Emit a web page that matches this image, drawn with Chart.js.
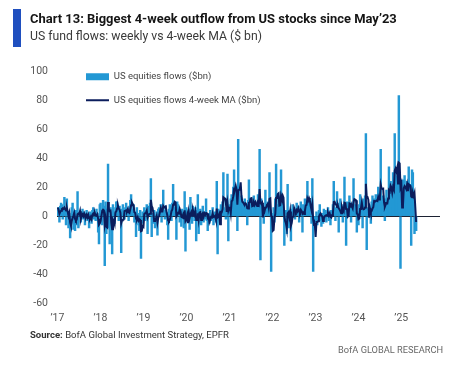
<!DOCTYPE html>
<html>
<head>
<meta charset="utf-8">
<script src="https://cdn.jsdelivr.net/npm/chart.js@4.4.1/dist/chart.umd.min.js"></script>
<style>
    html, body { margin: 0; padding: 0; background: #fff; }
    body {
        width: 467px; height: 368px; position: relative; overflow: hidden;
        font-family: Roboto, "Open Sans", sans-serif;
    }
    #chartBox { position: absolute; left: 0; top: 0; width: 467px; height: 368px; }
    .accent { position: absolute; left: 13px; top: 9px; width: 8px; height: 38px; background: #1f4fbf; }
    .txt { position: absolute; white-space: nowrap; }
    #title { left: 30px; top: 11px; font-size: 13px; line-height: 16px; font-weight: bold; color: #151515; }
    #subtitle { left: 30px; top: 28px; font-size: 13px; line-height: 16px; color: #3a3a3a; }
    #source { left: 30px; top: 328px; font-size: 11px; line-height: 14px; color: #333; }
    #brand { right: 24px; top: 343px; font-size: 11px; line-height: 14px; color: #666; }
</style>
</head>
<body>
<div id="chartBox"><canvas id="flowsChart" width="467" height="368"></canvas></div>
<div class="accent"></div>
<div class="txt" id="title">Chart 13: Biggest 4-week outflow from US stocks since May’23</div>
<div class="txt" id="subtitle">US fund flows: weekly vs 4-week MA ($ bn)</div>
<div class="txt" id="source"><b>Source:</b> BofA Global Investment Strategy, EPFR</div>
<div class="txt" id="brand">BofA GLOBAL RESEARCH</div>

<script>
// weekly US equity fund flows ($bn), one row per quarter
const flows2017 = [6, 3, -4, 7, 9, 8, -2, 5, 13, 4, -6, 12, 3,
    -8, 2, -15, -5, 6, 9, -9, 3, -10, 4, -6, 17, -8,
    2, 3, -4, 1, 5, -2, 3, -6, 2, 4, -3, 1, -8,
    3, 2, -5, 4, 6, -2, 1, -3, 5, 2, -11, -19, 8];
const flows2018 = [9, 4, -6, 11, 7, -34, 10, -12, 5, 36, -8, -19, 6,
    3, -26, 8, 2, -5, 6, 10, 10, 4, -3, 7, 2, -25,
    5, 8, 3, -2, 6, 9, 1, 4, -3, 7, 11, 15, 5,
    2, 8, -4, 3, -14, 6, 2, -6, -10, 4, -29, -5, 3];
const flows2019 = [2, 6, -3, 4, 8, -12, 3, 7, 9, 26, -14, 2, -5,
    4, -8, 1, 3, -13, 5, 6, 3, 8, -4, 6, 18, 4,
    -2, 7, 3, -6, -16, 5, 8, 4, -3, 9, 22, 6, 3,
    7, -16, 10, 8, 6, -4, 3, -7, 5, 2, -8, 17, -24];
const flows2020 = [6, 3, -4, 5, -9, 13, 2, -5, 7, 4, -3, 6, -17,
    4, 15, -12, 3, 5, -6, 2, 7, -4, 3, -2, 12, -3,
    -10, 2, -5, 4, -3, 1, 6, -6, -2, 3, -4, 24, -26,
    5, 2, -3, 8, 4, 10, 30, 6, 3, -2, 5, 29, -17];
const flows2021 = [6, 8, 12, 15, 8, 20, 32, 14, 18, 10, -10, 53, 20,
    12, 8, 14, 6, 10, 4, 12, 9, 7, -6, 11, 25, 8,
    5, 12, 3, 9, 14, 6, 10, 4, 8, 15, 6, 46, -30,
    12, 9, 6, -5, 4, 18, 7, 3, 10, 5, 30, 4, -38];
const flows2022 = [2, -8, 6, -4, 12, 36, 8, 5, 14, 2, 9, 32, 6,
    10, 3, -20, -6, 4, -12, 22, -3, -8, 2, -17, 5, 8,
    3, 6, -2, 4, 9, 2, 7, -4, 5, 10, 3, -11, 8,
    6, 12, 4, 9, 24, 6, 11, 3, 8, -5, 26, -38, -6];
const flows2023 = [-4, -9, 3, -6, -2, 4, 8, -3, -7, 2, -5, 5, -2,
    4, -4, 3, 6, -3, 2, -6, 4, 3, 8, 24, 5, -3,
    6, 17, 9, -11, 4, 12, 3, 6, -4, 8, 27, 5, -20,
    10, 4, 7, 14, 9, -4, 9, 8, 26, 4, 8, 6, -11];
const flows2024 = [3, -6, 8, 15, 5, 10, -8, 12, 6, 14, 57, -23, 5,
    6, 8, 2, -5, 10, 14, 6, 12, 9, 15, 7, 11, 20,
    8, 13, 46, 10, 6, 14, 9, -3, 12, 18, 8, 11, 34,
    15, 24, 6, 20, 30, 18, 57, 26, 22, 28, 14, 83, 20];
const flows2025 = [-36, 22, 18, 25, 12, 28, 15, 20, 24, 10, 34, 18, 22,
    -20, 32, 30, 14, -12, -8, -10];

// 4-week moving average ($bn)
const ma2017 = [6, 4.5, 1.7, 3, 3.8, 5, 5.5, 5, 6, 5, 4, 5.8, 3.3,
    0.3, 2.3, -4.5, -6.5, -3, -1.3, 0.3, 2.3, -1.8, -3, -2.3, 1.3, 1.8,
    1.3, 3.5, -1.8, 0.5, 1.3, 0, 1.8, 0, -0.8, 0.8, -0.8, 1, -1.5,
    -1.8, -0.5, -2, 1, 1.8, 0.8, 2.3, 0.5, 0.3, 1.3, -1.8, -5.8, -5];
const ma2018 = [-3.3, 0.5, 3.8, 4.5, 4, -5.5, -1.5, -7.3, -7.8, 9.8, 5.3, 3.5, 3.8,
    -4.5, -9, -2.3, -3.3, -5.3, 2.8, 3.3, 5.3, 7.5, 5.3, 4.5, 2.5, -4.8,
    -2.8, -2.5, -2.3, 3.5, 3.8, 4, 3.5, 5, 2.8, 2.3, 4.8, 7.5, 9.5,
    8.3, 7.5, 2.8, 2.3, -1.8, -2.3, -0.8, -3, -2, -2.5, -10.3, -10, -6.8];
const ma2019 = [-7.3, 1.5, 2, 2.3, 3.8, -0.8, 0.8, 1.5, 1.8, 11.3, 7, 5.8, 2.3,
    -3.3, -1.8, -2, 0, -4.3, -1, 0.3, 0.3, 5.5, 3.3, 3.3, 7, 6,
    6.5, 6.8, 3, 0.5, -3, -3.5, -2.3, 0.3, 3.5, 4.5, 8, 8.5, 10,
    9.5, 0, 1, 2.3, 2, 5, 3.3, -0.5, -0.8, 0.8, -2, 4, -3.3];
const ma2020 = [-2.3, 0.5, -4.8, 2.5, -1.3, 1.3, 2.8, 0.3, 4.3, 2, 0.8, 3.5, -2.5,
    -2.5, 2, -2.5, 2.5, 2.8, -2.5, 1, 2, -0.3, 2, 1, 2.3, 2.5,
    -0.8, 0.3, -4, -2.3, -0.5, -0.8, 2, -0.5, -0.3, 0.3, -2.3, 5.3, -0.8,
    -0.3, 1.3, -5.5, 3, 2.8, 4.8, 13, 12.5, 12.3, 9.3, 3, 8.8, 3.8];
const ma2021 = [5.8, 6.5, 2.3, 10.3, 10.8, 13.8, 18.8, 18.5, 21, 18.5, 8, 17.8, 18.3,
    18.8, 23.3, 13.5, 10, 9.5, 8.5, 8, 8.8, 8, 5.5, 5.3, 9.3, 9.5,
    12.3, 12.5, 7, 7.3, 9.5, 8, 9.8, 8.5, 7, 9.3, 8.3, 18.8, 9.3,
    8.5, 9.3, -0.8, 5.5, 3.5, 5.8, 6, 8, 9.5, 6.3, 12, 12.3, 0.3];
const ma2022 = [-0.5, -10, -9.5, -1, 1.5, 12.5, 13, 15.3, 15.8, 7.3, 7.5, 14.3, 12.3,
    14.3, 12.8, -0.3, -3.3, -4.8, -8.5, 2, 2.8, -0.3, 3.3, -6.5, -4.5, -0.5,
    -0.3, 5.5, 3.8, 2.8, 4.3, 3.3, 5.5, 3.5, 2.5, 4.5, 3.5, 1.8, 2.5,
    1.5, 3.8, 7.5, 7.8, 12.3, 10.8, 12.5, 11, 7, 4.3, 8, -2.3, -5.8];
const ma2023 = [-5.5, -14.3, -4, -4, -3.5, -0.3, 1, 1.8, 0.5, 0, -3.3, -1.3, 0,
    0.5, 0.8, 0.3, 2.3, 0.5, 2, -0.3, -0.8, 0.8, 2.3, 9.8, 10, 8.5,
    8, 6.3, 7.3, 5.3, 4.8, 3.5, 2, 6.3, 4.3, 3.3, 9.3, 9, 5,
    5.5, -0.3, 0.3, 8.8, 8.5, 6.5, 7, 5.5, 9.8, 11.8, 11.5, 11, 1.8];
const ma2024 = [1.5, -2, -1.5, 5, 5.5, 9.5, 5.5, 4.8, 5, 6, 22.3, 13.5, 13.3,
    11.3, -1, 5.3, 2.8, 3.8, 5.3, 6.3, 10.5, 10.3, 10.5, 10.8, 10.5, 13.3,
    11.5, 13, 21.8, 19.3, 18.8, 19, 9.8, 6.5, 8, 9, 8.8, 12.3, 17.8,
    17, 21, 19.8, 16.3, 20, 18.5, 31.3, 32.8, 30.8, 33.3, 22.5, 36.8, 36.3];
const ma2025 = [20.3, 22.3, 6, 7.3, 19.3, 20.8, 20, 18.8, 21.8, 17.3, 22, 21.5, 21,
    13.5, 13, 16, 14, 16, 6, -4];

const yearTicks = [2017, 2018, 2019, 2020, 2021, 2022, 2023, 2024, 2025];
const firstWeekDay = 3;   // days into Jan 2017 of the first weekly print

const weeklyFlows = [].concat(flows2017, flows2018, flows2019, flows2020, flows2021,
    flows2022, flows2023, flows2024, flows2025);
const weeklyMA = [].concat(ma2017, ma2018, ma2019, ma2020, ma2021,
    ma2022, ma2023, ma2024, ma2025);

// week i sits i*7 days after the first print
const weekPos = weeklyFlows.map((v, i) => 2017 + (firstWeekDay + i * 7) / 365.25);

const FONT = 'Roboto, "Open Sans", sans-serif';

// squeeze the html headings to the width they take in the original
function fitText(id, target) {
    const el = document.getElementById(id);
    const size = parseFloat(getComputedStyle(el).fontSize);
    const w = el.getBoundingClientRect().width;
    el.style.fontSize = (size * target / w).toFixed(2) + 'px';
}
fitText('title', 367);
fitText('subtitle', 232);
fitText('source', 199);
fitText('brand', 105);

// moves the in-plot legend up to the top-left corner like the original
const legendNudge = {
    id: 'legendNudge',
    afterLayout(chart) {
        const lg = chart.legend;
        lg.left = chart.chartArea.left + 15;
        lg.top = chart.chartArea.top - 13;
    }
};

const ctx = document.getElementById('flowsChart').getContext('2d');
new Chart(ctx, {
    type: 'bar',
    data: {
        datasets: [{
            type: 'bar',
            label: 'US equities flows ($bn)',
            data: weeklyFlows.map((v, i) => ({ x: weekPos[i], y: v })),
            backgroundColor: '#2398d4',
            borderWidth: 0,
            barThickness: 1.8,
            pointStyle: 'rect',
            order: 2
        }, {
            type: 'line',
            label: 'US equities flows 4-week MA ($bn)',
            data: weeklyMA.map((v, i) => ({ x: weekPos[i], y: v })),
            borderColor: '#0b1d5c',
            backgroundColor: '#0b1d5c',
            borderWidth: 2,
            pointRadius: 0,
            pointStyle: 'line',
            tension: 0,
            order: 1
        }]
    },
    options: {
        responsive: false,
        animation: false,
        layout: {
            padding: { left: 0, right: 27, top: 71, bottom: 34 }
        },
        scales: {
            x: {
                type: 'linear',
                offset: false,
                min: 2016.99,
                max: 2025.9,
                grid: { display: false, drawTicks: false },
                border: { display: false },
                afterBuildTicks: (scale) => {
                    scale.ticks = yearTicks.map(v => ({ value: v }));
                },
                ticks: {
                    autoSkip: false,
                    maxRotation: 0,
                    padding: 9,
                    color: '#555',
                    font: { family: FONT, size: 10.5 },
                    callback: (value) => '\u2019' + String(value).slice(2)
                }
            },
            y: {
                min: -60,
                max: 100,
                afterFit: (scale) => { scale.width = 57; },
                grid: {
                    drawTicks: false,
                    lineWidth: 1,
                    color: (c) => (c.tick && c.tick.value === 0) ? '#1c2233' : 'rgba(0,0,0,0)'
                },
                border: { display: false },
                ticks: {
                    stepSize: 20,
                    padding: 9,
                    color: '#555',
                    font: { family: FONT, size: 10.5 }
                }
            }
        },
        plugins: {
            legend: {
                position: 'chartArea',
                align: 'start',
                labels: {
                    usePointStyle: true,
                    pointStyleWidth: 23,
                    boxHeight: 7,
                    padding: 14,
                    color: '#444',
                    font: { family: FONT, size: 9.5 },
                    sort: (a, b) => a.datasetIndex - b.datasetIndex
                }
            },
            tooltip: { enabled: false }
        }
    },
    plugins: [legendNudge]
});
</script>
</body>
</html>
